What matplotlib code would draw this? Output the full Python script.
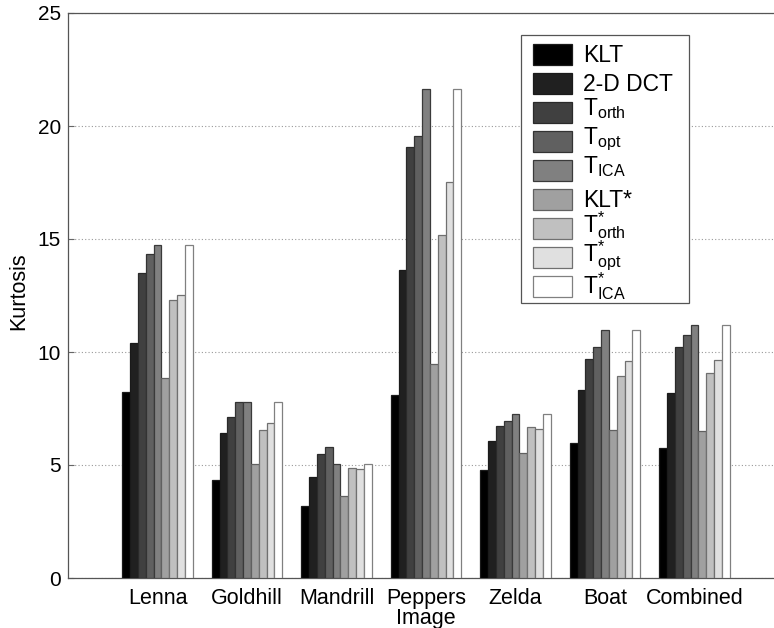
import matplotlib
matplotlib.use("Agg")
import matplotlib.pyplot as plt
from matplotlib.patches import Rectangle
import numpy as np

plt.rcParams['font.family'] = ['Liberation Sans', 'DejaVu Sans']
plt.rcParams['mathtext.fontset'] = 'custom'
plt.rcParams['mathtext.rm'] = 'Liberation Sans'
plt.rcParams['mathtext.it'] = 'Liberation Sans:italic'
plt.rcParams['mathtext.bf'] = 'Liberation Sans:bold'

images = ["Lenna", "Goldhill", "Mandrill", "Peppers", "Zelda", "Boat", "Combined"]
series = ["KLT", "2-D DCT", r"T$_{\mathrm{orth}}$", r"T$_{\mathrm{opt}}$", r"T$_{\mathrm{ICA}}$",
          "KLT*", r"T$^{*}_{\mathrm{orth}}$", r"T$^{*}_{\mathrm{opt}}$", r"T$^{*}_{\mathrm{ICA}}$"]

klt       = [8.22, 4.34, 3.18, 8.11, 4.80, 5.99, 5.75]
dct       = [10.40, 6.41, 4.47, 13.63, 6.08, 8.33, 8.19]
t_orth    = [13.51, 7.12, 5.47, 19.07, 6.74, 9.69, 10.22]
t_opt     = [14.32, 7.77, 5.78, 19.56, 6.93, 10.22, 10.75]
t_ica     = [14.72, 7.77, 5.03, 21.62, 7.24, 10.96, 11.18]
klt_s     = [8.85, 5.04, 3.62, 9.46, 5.53, 6.53, 6.49]
t_orth_s  = [12.31, 6.56, 4.88, 15.17, 6.70, 8.94, 9.09]
t_opt_s   = [12.54, 6.86, 4.83, 17.52, 6.59, 9.59, 9.66]
t_ica_s   = [14.72, 7.77, 5.03, 21.62, 7.24, 10.96, 11.18]

data = [klt, dct, t_orth, t_opt, t_ica, klt_s, t_orth_s, t_opt_s, t_ica_s]
colors = ['#000000', '#202020', '#404040', '#606060', '#808080',
          '#a0a0a0', '#c0c0c0', '#e0e0e0', '#ffffff']
edges = ['#1a1a1a', '#1a1a1a', '#2a2a2a', '#333333', '#3a3a3a',
         '#606060', '#707070', '#707070', '#808080']

W, H = 774, 628
fig = plt.figure(figsize=(W / 100, H / 100), dpi=100)
ax = fig.add_axes([68 / W, 50 / H, 716 / W, 565 / H])

n = len(data)
x = np.arange(1, len(images) + 1)
w = 0.79 / n
for i, (vals, c, e, lab) in enumerate(zip(data, colors, edges, series)):
    ax.bar(x - 0.395 + w * (i + 0.5), vals, width=w, color=c, edgecolor=e,
           linewidth=0.9, label=lab, zorder=3)

ax.set_xlim(0, 8)
ax.set_ylim(0, 25)
ax.set_yticks([0, 5, 10, 15, 20, 25])
ax.set_xticks(x)
ax.set_xticklabels(images, fontsize=15.5)
ax.tick_params(axis='y', labelsize=15, direction='in', length=4, color='#666666', pad=5)
ax.tick_params(axis='x', direction='in', length=4, color='#666666', pad=7)
ax.yaxis.grid(True, linestyle=(0, (1, 2)), color='#999999', linewidth=0.8, zorder=0)
ax.set_axisbelow(True)
for s in ax.spines.values():
    s.set_color('#555555')
    s.set_linewidth(0.9)

ax.set_xlabel("Image", fontsize=15.5)
ax.xaxis.set_label_coords(0.5, -0.053)
ax.set_ylabel("Kurtosis", fontsize=15.5)
ax.yaxis.set_label_coords(-0.054, 0.508)

# Legend drawn manually (figure pixel layout) to match the reference's even row spacing
def fx(px):
    return px / W

def fy(py):
    return 1 - py / H

fig.patches.append(Rectangle((fx(521), fy(303)), fx(689) - fx(521), fy(35) - fy(303),
                             transform=fig.transFigure, facecolor='white',
                             edgecolor='#555555', linewidth=0.9, zorder=5))
pitch = 29.05
offsets = [2.5, 2.5, 7.5, 7.5, 7.5, 2.5, 6.0, 6.0, 3.8]
for i, (lab, c, e, off) in enumerate(zip(series, colors, edges, offsets)):
    top = 44 + pitch * i
    bot = top + 20.5
    fig.patches.append(Rectangle((fx(533), fy(bot)), fx(572) - fx(533), fy(top) - fy(bot),
                                 transform=fig.transFigure, facecolor=c, edgecolor=e,
                                 linewidth=0.9, zorder=6))
    fig.text(fx(583), fy(bot - off), lab, fontsize=16.5, ha='left', va='baseline',
             zorder=7)

fig.savefig("out.png", dpi=100)
